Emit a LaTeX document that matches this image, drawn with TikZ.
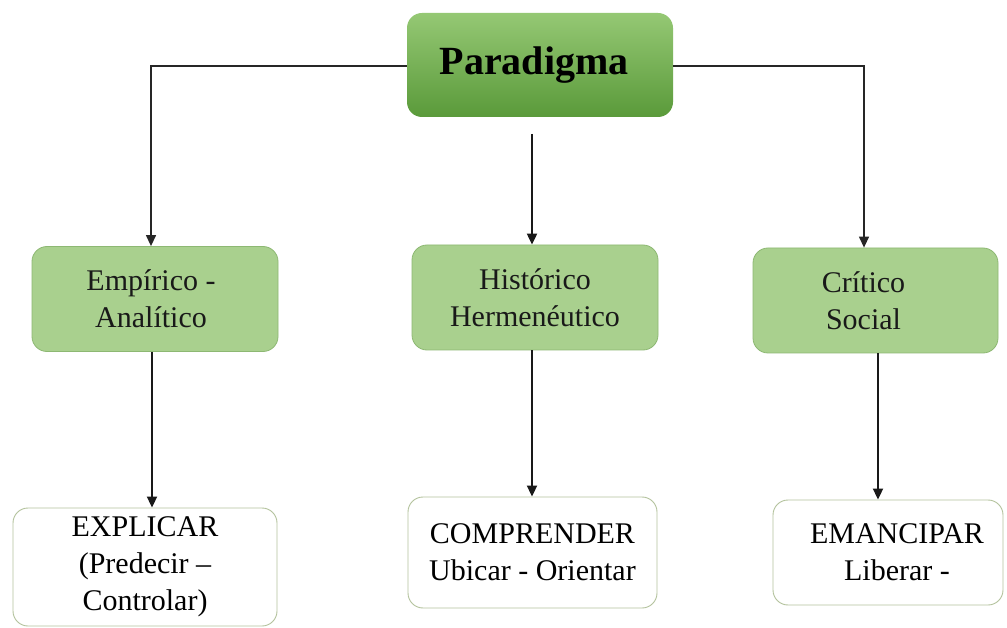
\documentclass[tikz,border=0pt]{standalone}
\usepackage{fontspec}
\setmainfont{Liberation Serif}
\usetikzlibrary{arrows.meta}
\definecolor{gfill}{HTML}{A9D08E}
\definecolor{gdraw}{HTML}{8DB873}
\definecolor{ptop}{HTML}{95C874}
\definecolor{pbot}{HTML}{5A9A3A}
\definecolor{wdraw}{HTML}{B3C29C}
\tikzset{
  head/.style={rounded corners=15pt, top color=ptop, bottom color=pbot, draw=none,
    minimum width=266pt, minimum height=104pt, inner sep=0pt,
    font=\fontsize{40}{46}\selectfont\bfseries},
  catbox/.style={rounded corners=15pt, fill=gfill, draw=gdraw, line width=0.8pt,
    minimum height=105pt, inner sep=0pt, align=center,
    font=\fontsize{30}{37}\selectfont, text=black!90},
  resbox/.style={rounded corners=15pt, fill=white, draw=wdraw, line width=0.9pt,
    inner sep=0pt, align=center, font=\fontsize{30}{37}\selectfont},
  link/.style={draw=black!85, line width=1.3pt},
  arr/.style={draw=black!90, line width=2pt, -{Triangle[length=11pt,width=10pt]}},
  arrthin/.style={draw=black!85, line width=1.3pt, -{Triangle[length=11pt,width=10pt]}}
}
\begin{document}
\begin{tikzpicture}[x=1pt,y=-1pt]
\useasboundingbox[fill=white] (0,0) rectangle (1007,628);
\node[head] (par) at (540,65) {\hspace*{-12pt}Paradigma};
\node[catbox, minimum width=246pt] (emp) at (155,299) {\hspace*{-8pt}Empírico -\\\hspace*{-8pt}Analítico};
\node[catbox, minimum width=246pt] (his) at (535,297.5) {Histórico\\Hermenéutico};
\node[catbox, minimum width=245pt] (cri) at (875.5,300.5) {\hspace*{-24pt}Crítico\\\hspace*{-24pt}Social};
\node[resbox, minimum width=264pt, minimum height=118pt] (exp) at (145,567) {EXPLICAR\\(Predecir –\\Controlar)};
\node[resbox, minimum width=249pt, minimum height=111pt] (com) at (532.5,552.5) {COMPRENDER\\Ubicar - Orientar};
\node[resbox, minimum width=230pt, minimum height=105pt] (ema) at (888,552.5) {\hspace*{18pt}EMANCIPAR\\\hspace*{18pt}Liberar -};
\coordinate (l1) at (151,66);
\coordinate (r1) at (864,66);
\coordinate (m1) at (532,134);
\draw[arrthin] (par.west |- l1) -- (l1) -- (l1 |- emp.north);
\draw[arrthin] (par.east |- r1) -- (r1) -- (r1 |- cri.north);
\draw[arr] (m1) -- (m1 |- his.north);
\coordinate (a1) at (152,0);
\coordinate (a2) at (532,0);
\coordinate (a3) at (878,0);
\draw[arr] (a1 |- emp.south) -- (a1 |- exp.north);
\draw[arr] (a2 |- his.south) -- (a2 |- com.north);
\draw[arr] (a3 |- cri.south) -- (a3 |- ema.north);
\end{tikzpicture}
\end{document}
